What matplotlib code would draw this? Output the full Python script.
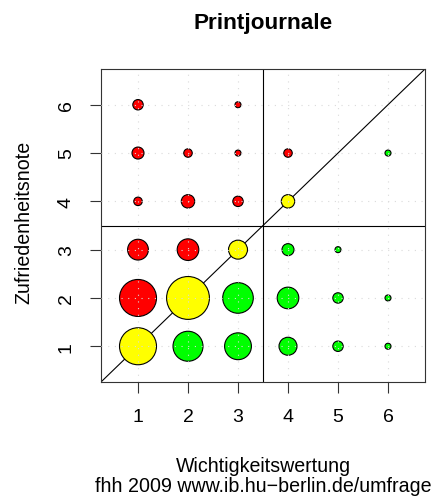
import numpy as np
import matplotlib
matplotlib.use("Agg")
import matplotlib.pyplot as plt

plt.rcParams["font.family"] = ["Liberation Sans", "DejaVu Sans"]

# Survey responses: importance rating (x) vs. satisfaction grade (y), with counts
wichtigkeit = [1, 2, 3, 4, 5, 6,
               1, 2, 3, 4, 5, 6,
               1, 2, 3, 4, 5,
               1, 2, 3, 4,
               1, 2, 3, 4, 6,
               1, 3]
zufriedenheit = [1, 1, 1, 1, 1, 1,
                 2, 2, 2, 2, 2, 2,
                 3, 3, 3, 3, 3,
                 4, 4, 4, 4,
                 5, 5, 5, 5, 5,
                 6, 6]
anzahl = [38, 25, 20, 9, 3, 1,
          38, 51, 26, 13, 3, 1,
          12, 13, 10, 4, 1,
          2, 5, 3, 5,
          4, 2, 1, 2, 1,
          3, 1]
ticks = [1, 2, 3, 4, 5, 6]

W, H, DPI = 433, 502, 100
fig = plt.figure(figsize=(W / DPI, H / DPI), dpi=DPI)
ax = fig.add_axes([101 / W, 1 - 383 / H, (425 - 101) / W, (383 - 70) / H])

x = np.array(wichtigkeit, dtype=float)
y = np.array(zufriedenheit, dtype=float)
n = np.array(anzahl, dtype=float)

colors = np.where(y > x, "#FF0000", np.where(y == x, "#FFFF00", "#00FF00"))
diam_px = 6.0 * np.sqrt(n)
sizes = (diam_px * 72 / DPI) ** 2

lo, hi = 0.26, 6.74
ax.set_xlim(lo, hi)
ax.set_ylim(lo, hi)

ax.scatter(x, y, s=sizes, c=colors, edgecolors="black", linewidths=0.8, zorder=3)

# reference lines: diagonal and quadrant split
ax.plot([lo, hi], [lo, hi], color="black", lw=0.8, zorder=2)
ax.axvline(3.5, color="black", lw=0.8, zorder=2)
ax.axhline(3.5, color="black", lw=0.8, zorder=2)

# dotted grid on top of the symbols
for t in ticks:
    ax.axvline(t, color="#DADADA", lw=0.8, linestyle=(0, (1, 5)), zorder=4)
    ax.axhline(t, color="#DADADA", lw=0.8, linestyle=(0, (1, 5)), zorder=4)

ax.set_xticks(ticks)
ax.set_yticks(ticks)
ax.set_xticklabels([str(t) for t in ticks], fontsize=14)
ax.set_yticklabels([str(t) for t in ticks], fontsize=14, rotation=90, va="center")
ax.tick_params(direction="out", length=7.9, width=0.8, color="#333333", pad=11)
for sp in ax.spines.values():
    sp.set_linewidth(0.8)
    sp.set_color("#333333")

fig.text(263 / W, 1 - 24 / H, "Printjournale", ha="center", va="center",
         fontsize=16.2, fontweight="bold")
fig.text(263 / W, 1 - 467 / H, "Wichtigkeitswertung", ha="center", va="center",
         fontsize=14.1)
fig.text(263 / W, 1 - 487 / H, "fhh 2009 www.ib.hu\u2212berlin.de/umfrage",
         ha="center", va="center", fontsize=14.1)
fig.text(24 / W, 1 - 222 / H, "Zufriedenheitsnote", ha="center", va="center",
         rotation=90, fontsize=14.1)

fig.savefig("out.png", dpi=DPI)
